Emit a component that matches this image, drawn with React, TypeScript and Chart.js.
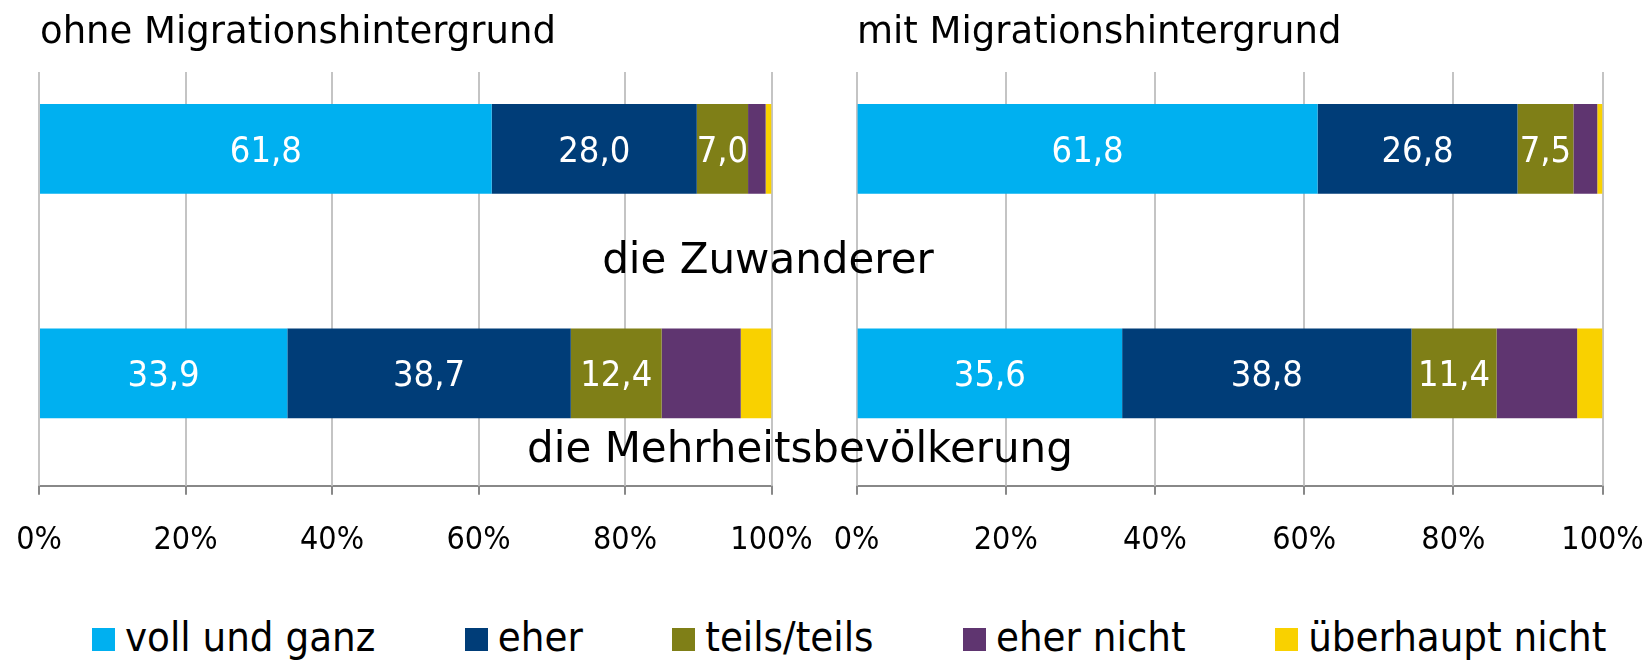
import React, { useEffect, useRef } from 'react';
import { Chart, registerables } from 'chart.js';

Chart.register(...registerables);

// ---------- data ----------
const categories = ['die Zuwanderer', 'die Mehrheitsbevölkerung'];
const panelTitles = ['ohne Migrationshintergrund', 'mit Migrationshintergrund'];
const seriesNames = ['voll und ganz', 'eher', 'teils/teils', 'eher nicht', 'überhaupt nicht'];
const seriesColors = ['#00B0F0', '#003D78', '#7F7F17', '#5F3570', '#F9D100'];

const ohneVollUndGanz = [61.8, 33.9];
const ohneEher = [28.0, 38.7];
const ohneTeilsTeils = [7.0, 12.4];
const ohneEherNicht = [2.4, 10.8];
const ohneUeberhauptNicht = [0.8, 4.2];

const mitVollUndGanz = [61.8, 35.6];
const mitEher = [26.8, 38.8];
const mitTeilsTeils = [7.5, 11.4];
const mitEherNicht = [3.2, 10.8];
const mitUeberhauptNicht = [0.7, 3.4];

const tickValues = [0, 20, 40, 60, 80, 100];
const labelledSeriesCount = 3;

// ---------- styles ----------
const WIDE = "'DejaVu Sans', Verdana, sans-serif";
const NARROW = "'DejaVu Sans Condensed', 'DejaVu Sans', sans-serif";
const GRID_TOP = 72;

const gridPlugin = {
  id: 'partialGrid',
  beforeDatasetsDraw(chart: any) {
    const { ctx, chartArea } = chart;
    const x = chart.scales.x;
    ctx.save();
    ctx.strokeStyle = '#C4C4C4';
    ctx.lineWidth = 2;
    x.ticks.forEach((_t: any, i: number) => {
      const px = Math.round(x.getPixelForTick(i));
      ctx.beginPath();
      ctx.moveTo(px, GRID_TOP);
      ctx.lineTo(px, chartArea.bottom);
      ctx.stroke();
    });
    ctx.restore();
  },
};

const labelPlugin = {
  id: 'barValues',
  afterDatasetsDraw(chart: any) {
    const { ctx } = chart;
    ctx.save();
    ctx.fillStyle = '#FFFFFF';
    ctx.font = `36px ${NARROW}`;
    ctx.textAlign = 'center';
    ctx.textBaseline = 'alphabetic';
    chart.data.datasets.forEach((ds: any, di: number) => {
      if (di >= labelledSeriesCount) return;
      const meta = chart.getDatasetMeta(di);
      meta.data.forEach((el: any, i: number) => {
        const v = ds.data[i];
        const cx = (el.x + el.base) / 2;
        ctx.fillText(v.toFixed(1).replace('.', ','), cx, el.y + 13);
      });
    });
    ctx.restore();
  },
};

function Panel(props: { left: number; padLeft: number; padRight: number; series: number[][] }) {
  const ref = useRef<HTMLCanvasElement>(null);
  useEffect(() => {
    const chart = new Chart(ref.current as HTMLCanvasElement, {
      type: 'bar',
      data: {
        labels: categories,
        datasets: props.series.map((d, i) => ({
          label: seriesNames[i],
          data: d,
          backgroundColor: seriesColors[i],
          borderWidth: 0,
          barPercentage: 0.4,
          categoryPercentage: 1,
        })),
      },
      options: {
        indexAxis: 'y',
        responsive: false,
        animation: false,
        devicePixelRatio: 1,
        layout: { padding: { left: props.padLeft, right: props.padRight, top: 36.5, bottom: 13.5 } },
        plugins: { legend: { display: false }, tooltip: { enabled: false }, title: { display: false } },
        scales: {
          x: {
            stacked: true,
            min: 0,
            max: 100,
            afterBuildTicks: (scale: any) => {
              scale.ticks = tickValues.map((v) => ({ value: v }));
            },
            ticks: {
              padding: 3,
              color: '#000000',
              font: { family: NARROW, size: 32, lineHeight: 2.68 },
              maxRotation: 0,
              autoSkip: false,
              callback: (v: any) => `${v}%`,
            },
            grid: { drawOnChartArea: false, drawTicks: true, tickLength: 9, color: '#888888', lineWidth: 2 },
            border: { display: true, color: '#888888', width: 2 },
          },
          y: { stacked: true, display: false },
        },
      },
      plugins: [gridPlugin, labelPlugin],
    } as any);
    return () => chart.destroy();
  }, []);
  return (
    <canvas
      ref={ref}
      width={826}
      height={600}
      style={{ position: 'absolute', left: props.left, top: 0, width: 826, height: 600 }}
    />
  );
}

export default function App() {
  const textBase: React.CSSProperties = { position: 'absolute', whiteSpace: 'nowrap', color: '#000' };
  return (
    <div style={{ position: 'absolute', left: 0, top: 0, width: 1652, height: 660, background: '#fff', overflow: 'hidden' }}>
      <Panel
        left={0}
        padLeft={39}
        padRight={54.5}
        series={[ohneVollUndGanz, ohneEher, ohneTeilsTeils, ohneEherNicht, ohneUeberhauptNicht]}
      />
      <Panel
        left={826}
        padLeft={30.6}
        padRight={49.5}
        series={[mitVollUndGanz, mitEher, mitTeilsTeils, mitEherNicht, mitUeberhauptNicht]}
      />
      <div style={{ ...textBase, left: 40, top: 11.7, font: `37px ${WIDE}`, lineHeight: '37px' }}>{panelTitles[0]}</div>
      <div style={{ ...textBase, left: 857, top: 11.7, font: `37px ${WIDE}`, lineHeight: '37px' }}>{panelTitles[1]}</div>
      <div style={{ ...textBase, left: 368, width: 800, textAlign: 'center', top: 238, font: `42px ${WIDE}`, lineHeight: '42px' }}>
        {categories[0]}
      </div>
      <div style={{ ...textBase, left: 400, width: 800, textAlign: 'center', top: 426.5, font: `42px ${WIDE}`, lineHeight: '42px' }}>
        {categories[1]}
      </div>
      <div style={{ ...textBase, left: 92, top: 615.5, font: `41.5px ${NARROW}`, lineHeight: '41.5px', display: 'flex', gap: 89.5 }}>
        {seriesNames.map((n, i) => (
          <span key={n} style={{ whiteSpace: 'nowrap' }}>
            <span style={{ display: 'inline-block', width: 23, height: 23, background: seriesColors[i], marginRight: 10, verticalAlign: 'baseline' }} />
            {n}
          </span>
        ))}
      </div>
    </div>
  );
}
